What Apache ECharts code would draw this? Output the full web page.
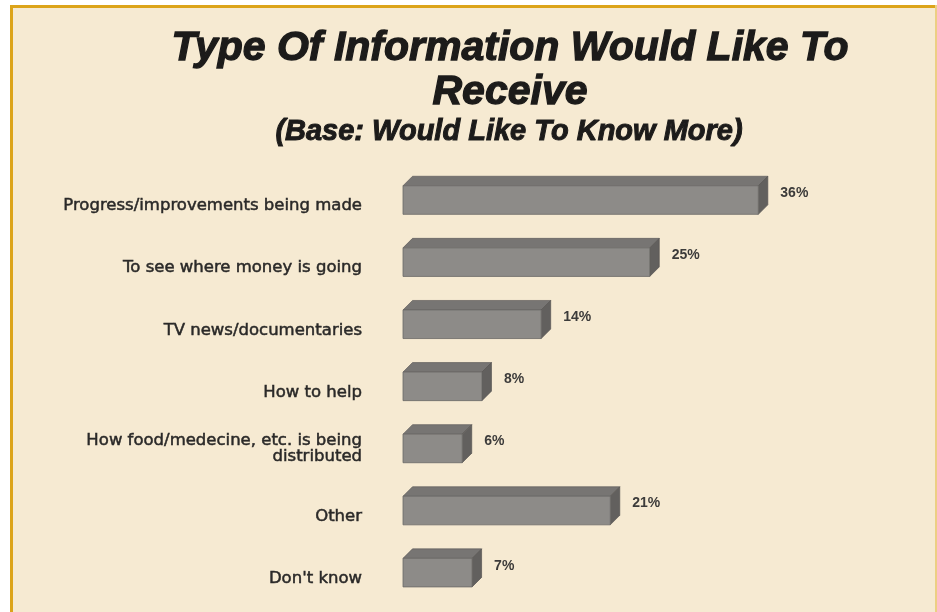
<!DOCTYPE html>
<html>
<head>
<meta charset="utf-8">
<script src="https://cdn.jsdelivr.net/npm/echarts@6/dist/echarts.min.js"></script>
<style>
  html, body { margin: 0; padding: 0; background: #ffffff; }
  #chart { width: 937px; height: 612px; }
</style>
</head>
<body>
<div id="chart"></div>
<script>
// Survey answers, top to bottom
const categories = [
  'Progress/improvements being made',
  'To see where money is going',
  'TV news/documentaries',
  'How to help',
  'How food/medecine, etc. is being\ndistributed',
  'Other',
  "Don't know"
];
// Share of respondents (%)
const percentages = [36, 25, 14, 8, 6, 21, 7];

const titleText = 'Type Of Information Would Like To\nReceive';
const subtitleText = '(Base: Would Like To Know More)';

// Draws one extruded (pseudo-3D) bar: front face, top face, right side and value label
function renderBar(params, api) {
  const value = api.value(0);
  const idx = api.value(1);
  const base = api.coord([0, idx]);
  const tip = api.coord([value, idx]);
  const band = api.size([0, 1])[1];
  const h = band * 0.46;
  const d = band * 0.153;
  const x0 = base[0];
  const x1 = tip[0];
  const yT = tip[1] - h / 2;
  const yB = tip[1] + h / 2;
  return {
    type: 'group',
    children: [
      {
        type: 'polygon',
        shape: { points: [[x0, yT], [x0 + d, yT - d], [x1 + d, yT - d], [x1, yT]] },
        style: { fill: '#777573', stroke: '#615f5d', lineWidth: 0.7 }
      },
      {
        type: 'polygon',
        shape: { points: [[x1, yT], [x1 + d, yT - d], [x1 + d, yB - d], [x1, yB]] },
        style: { fill: '#62605e', stroke: '#575553', lineWidth: 0.7 }
      },
      {
        type: 'rect',
        shape: { x: x0, y: yT, width: x1 - x0, height: h },
        style: { fill: '#8d8b88', stroke: '#6b6967', lineWidth: 0.8 }
      },
      {
        type: 'text',
        x: x1 + d + 12.5,
        y: tip[1] - 7,
        style: {
          text: value + '%',
          fill: '#3c3b3a',
          font: 'bold 14px "Liberation Sans", Arial, sans-serif',
          align: 'left',
          verticalAlign: 'middle'
        }
      }
    ]
  };
}

const chart = echarts.init(document.getElementById('chart'), null, { renderer: 'canvas' });

const headingFont = {
  fontFamily: '"Liberation Sans", Arial, sans-serif',
  fontWeight: 'bold',
  fontStyle: 'italic',
  color: '#1c1b1a',
  textBorderColor: '#1c1b1a',
  textBorderWidth: 1.3
};

chart.setOption({
  backgroundColor: '#ffffff',
  animation: false,
  graphic: [
    { type: 'rect', z: -10, shape: { x: 10, y: 5, width: 927, height: 607 }, style: { fill: '#f6ead2' } },
    { type: 'rect', z: -9, shape: { x: 10, y: 5, width: 927, height: 3 }, style: { fill: '#dca41a' } },
    { type: 'rect', z: -9, shape: { x: 10, y: 5, width: 3, height: 607 }, style: { fill: '#dca41a' } },
    { type: 'rect', z: -9, shape: { x: 935, y: 5, width: 2, height: 607 }, style: { fill: '#eccf84' } }
  ],
  title: [
    {
      text: titleText,
      left: 505,
      top: 22,
      textAlign: 'center',
      textStyle: Object.assign({ fontSize: 41, lineHeight: 44 }, headingFont)
    },
    {
      text: subtitleText,
      left: 504,
      top: 112,
      textAlign: 'center',
      textStyle: Object.assign({ fontSize: 29, lineHeight: 30 }, headingFont, { textBorderWidth: 1 })
    }
  ],
  grid: { left: 403, right: 40.5, top: 169, bottom: 8.3 },
  xAxis: { type: 'value', min: 0, max: 50, show: false },
  yAxis: {
    type: 'category',
    data: categories,
    inverse: true,
    axisLine: { show: false },
    axisTick: { show: false },
    splitLine: { show: false },
    axisLabel: {
      margin: 41,
      color: '#2a2928',
      textBorderColor: '#2a2928',
      textBorderWidth: 0.5,
      fontFamily: '"DejaVu Sans", sans-serif',
      fontSize: 16.5,
      lineHeight: 16,
      align: 'right',
      // single-line answers sit slightly below the bar's middle
      formatter: (name) => (name.indexOf('\n') >= 0 ? name : '{one|' + name + '}'),
      rich: {
        one: {
          color: '#2a2928',
          textBorderColor: '#2a2928',
          textBorderWidth: 0.5,
          fontFamily: '"DejaVu Sans", sans-serif',
          fontSize: 16.5,
          lineHeight: 16,
          padding: [12, 0, 0, 0]
        }
      }
    }
  },
  series: [
    {
      type: 'custom',
      renderItem: renderBar,
      encode: { x: 0, y: 1 },
      data: percentages.map((v, i) => [v, i])
    }
  ]
});
</script>
</body>
</html>
